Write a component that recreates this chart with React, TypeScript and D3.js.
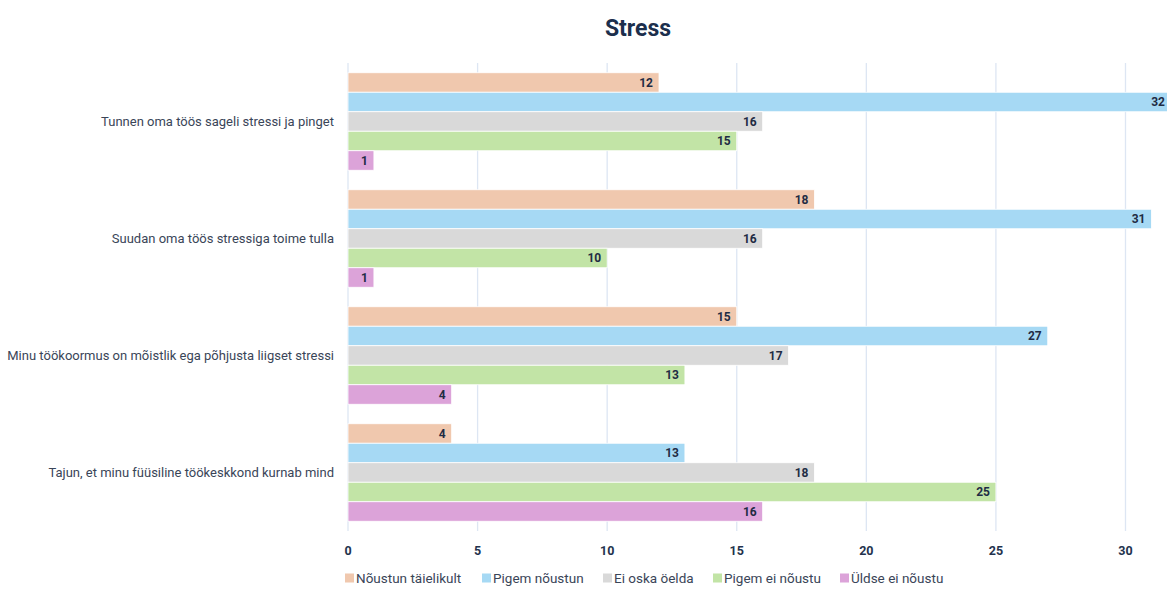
import React from "react";
import * as d3 from "d3";

const categories = [
  "Tunnen oma töös sageli stressi ja pinget",
  "Suudan oma töös stressiga toime tulla",
  "Minu töökoormus on mõistlik ega põhjusta liigset stressi",
  "Tajun, et minu füüsiline töökeskkond kurnab mind",
];

const seriesNames = [
  "Nõustun täielikult",
  "Pigem nõustun",
  "Ei oska öelda",
  "Pigem ei nõustu",
  "Üldse ei nõustu",
];

const noustunTaielikult = [12, 18, 15, 4];
const pigemNoustun = [32, 31, 27, 13];
const eiOskaOelda = [16, 16, 17, 18];
const pigemEiNoustu = [15, 10, 13, 25];
const uldseEiNoustu = [1, 1, 4, 16];

const seriesValues = [noustunTaielikult, pigemNoustun, eiOskaOelda, pigemEiNoustu, uldseEiNoustu];

const colors = ["#f0c8ae", "#a6d9f4", "#d9d9d9", "#c2e4a6", "#dca3d9"];

const xTicks = [0, 5, 10, 15, 20, 25, 30];

const W = 1167;
const H = 590;
const FONT = "Roboto, 'Noto Sans', sans-serif";

export default function App() {
  const x = d3.scaleLinear().domain([0, 30]).range([348, 1125.5]);
  const y0 = d3
    .scaleBand<string>()
    .domain(categories)
    .range([63, 531])
    .paddingInner(1 / 6)
    .paddingOuter(1 / 12);
  const y1 = d3
    .scaleBand<string>()
    .domain(seriesNames)
    .range([0, y0.bandwidth()]);

  const legendX = [345, 482, 603, 713, 840];

  return (
    <svg
      width={W}
      height={H}
      style={{ position: "fixed", left: 0, top: 0, background: "#fff", overflow: "hidden" }}
      fontFamily={FONT}
    >
      <text x={638} y={36} textAnchor="middle" fontSize={23} fontWeight={700} fill="#1c2f4d">
        Stress
      </text>

      {xTicks.map((t) => (
        <g key={t}>
          <line x1={x(t)} x2={x(t)} y1={63} y2={531} stroke="#dde6f3" strokeWidth={1.3} />
          <text
            x={x(t)}
            y={555}
            textAnchor="middle"
            fontSize={12.5}
            fontWeight={700}
            fill="#23324d"
          >
            {t}
          </text>
        </g>
      ))}

      {categories.map((c, ci) => (
        <g key={c} transform={`translate(0,${y0(c)})`}>
          <text
            x={334}
            y={y0.bandwidth() / 2}
            dy="0.35em"
            textAnchor="end"
            fontSize={13}
            fill="#3a4558"
          >
            {c}
          </text>
          {seriesNames.map((s, si) => {
            const v = seriesValues[si][ci];
            const yy = y1(s)!;
            return (
              <g key={s}>
                <rect
                  x={x(0)}
                  y={yy}
                  width={x(v) - x(0)}
                  height={y1.bandwidth()}
                  fill={colors[si]}
                  stroke="#fff"
                  strokeWidth={0.8}
                />
                <text
                  x={Math.min(x(v) - 6, W - 2)}
                  y={yy + y1.bandwidth() / 2}
                  dy="0.36em"
                  textAnchor="end"
                  fontSize={12}
                  fontWeight={700}
                  fill="#1f2c44"
                >
                  {v}
                </text>
              </g>
            );
          })}
        </g>
      ))}

      {seriesNames.map((s, si) => (
        <g key={s} transform={`translate(${legendX[si]},583)`}>
          <rect x={0} y={-9.5} width={9} height={9} fill={colors[si]} />
          <text x={11} y={0} fontSize={13.5} fill="#3a4558">
            {s}
          </text>
        </g>
      ))}
    </svg>
  );
}
